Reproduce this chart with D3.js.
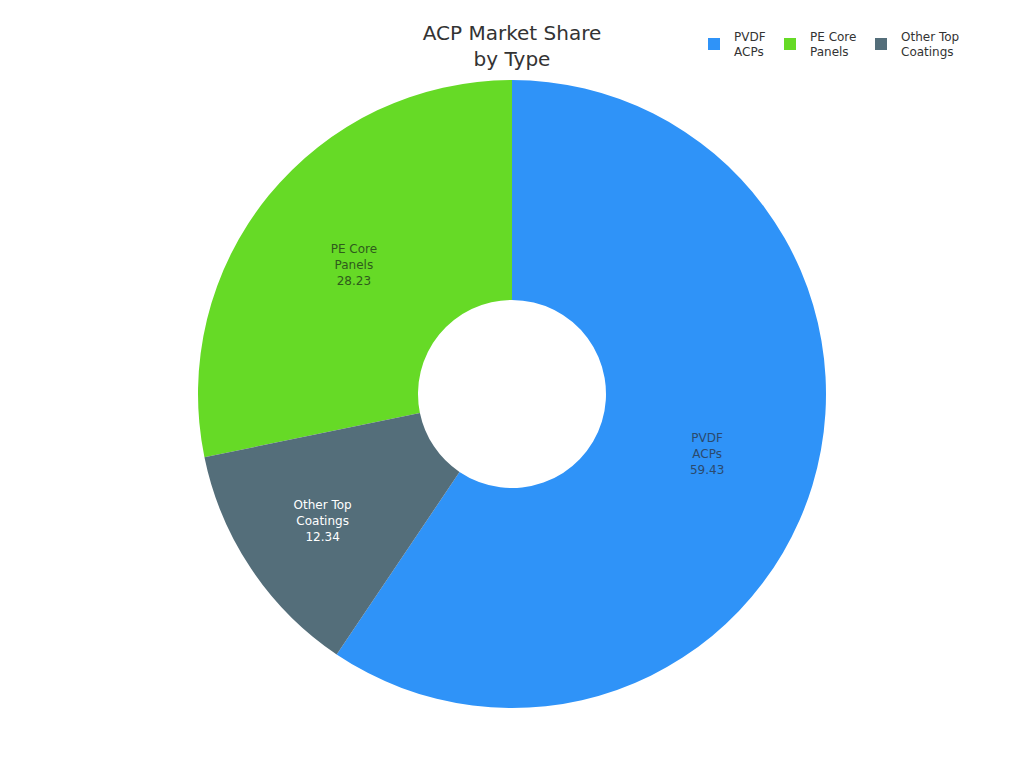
<!DOCTYPE html>
<html>
<head>
<meta charset="utf-8">
<script src="https://cdn.jsdelivr.net/npm/d3@7"></script>
<style>
html,body{margin:0;padding:0;background:#fff;}
svg{display:block;font-family:"DejaVu Sans",sans-serif;}
</style>
</head>
<body>
<svg id="chart" width="1024" height="768"></svg>
<script>
const categories = [["PVDF","ACPs"],["PE Core","Panels"],["Other Top","Coatings"]];
const values = [59.43, 28.23, 12.34];
const colors = ["#2f93f8", "#66da26", "#546e7a"];
const labelColors = ["#2b4a6e", "#2f5a1c", "#ffffff"];
const sliceOrder = [0, 2, 1];
const titleLines = ["ACP Market Share", "by Type"];

const svg = d3.select("#chart");
const cx = 512, cy = 394, outerR = 314, innerR = 94;
// small slices get their label pushed a bit further out
const labelR = v => v < 20 ? 228 : (innerR + outerR) / 2;

const data = values.map((v, i) => ({idx: i, name: categories[i], value: v, color: colors[i], lc: labelColors[i]}));
const pie = d3.pie().value(d => d.value)
  .sort((a, b) => sliceOrder.indexOf(a.idx) - sliceOrder.indexOf(b.idx));
const arc = d3.arc().innerRadius(innerR).outerRadius(outerR);

const g = svg.append("g").attr("transform", `translate(${cx},${cy})`);
const arcs = pie(data);
g.selectAll("path").data(arcs).join("path")
  .attr("d", arc).attr("fill", d => d.data.color);

const lab = g.selectAll("text.lab").data(arcs).join("text")
  .attr("class", "lab")
  .attr("transform", d => {
    const r = labelR(d.data.value);
    return `translate(${d3.arc().innerRadius(r).outerRadius(r).centroid(d)})`;
  })
  .attr("text-anchor", "middle")
  .attr("font-size", 12)
  .attr("fill", d => d.data.lc);
lab.each(function(d) {
  const t = d3.select(this);
  const lines = [...d.data.name, d.data.value.toFixed(2)];
  lines.forEach((l, i) => {
    t.append("tspan").attr("x", 0).attr("y", (i - 1) * 16 + 4).text(l);
  });
});

svg.append("text").attr("text-anchor", "middle")
  .attr("font-size", 20).attr("fill", "#333")
  .selectAll("tspan").data(titleLines).join("tspan")
  .attr("x", 512).attr("y", (d, i) => 40 + i * 26).text(d => d);

const legX = [708, 784, 875];
const leg = svg.selectAll("g.leg").data(data).join("g").attr("class", "leg")
  .attr("transform", (d, i) => `translate(${legX[i]},38)`);
leg.append("rect").attr("width", 12).attr("height", 12).attr("fill", d => d.color);
leg.append("text").attr("font-size", 12).attr("fill", "#333")
  .selectAll("tspan").data(d => d.name).join("tspan")
  .attr("x", 26).attr("y", (t, i) => i === 0 ? 3 : 18).text(t => t);
</script>
</body>
</html>
